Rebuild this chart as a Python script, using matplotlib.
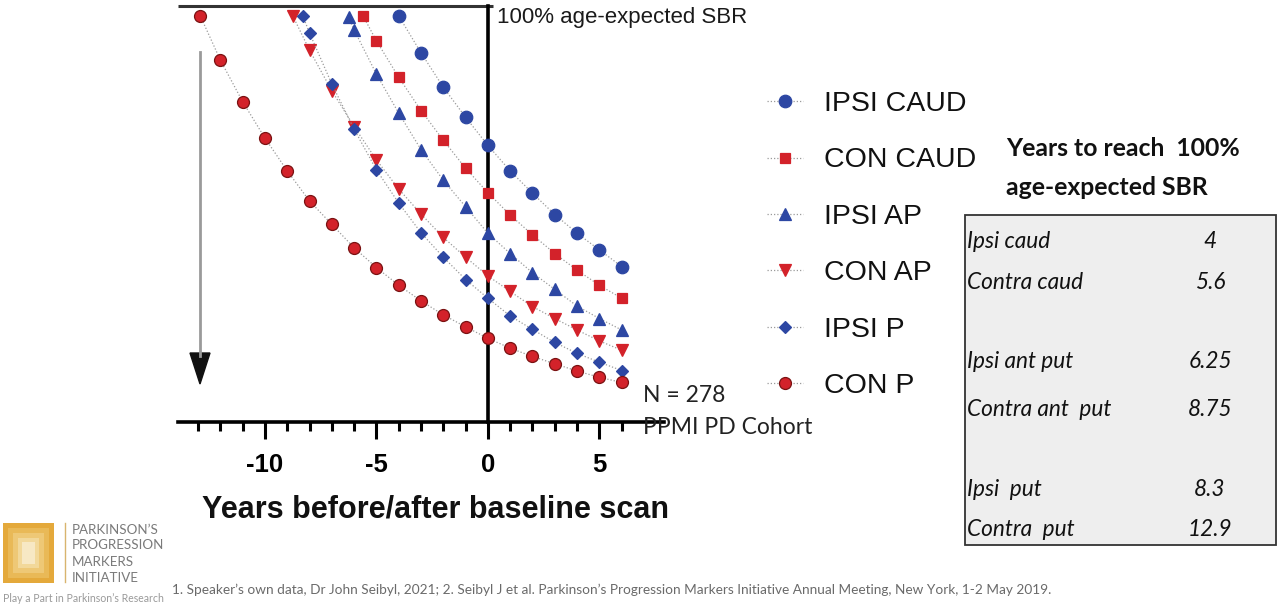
import matplotlib
matplotlib.use("Agg")
import matplotlib.pyplot as plt
from matplotlib.lines import Line2D
from matplotlib.patches import Rectangle, Polygon
from matplotlib.ticker import FixedLocator, NullFormatter
import logging
logging.getLogger("matplotlib.font_manager").setLevel(logging.ERROR)

# ---------------- data (% of age-expected SBR) ----
ipsi_caud_years = [-4, -3, -2, -1, 0, 1, 2, 3, 4, 5, 6]
ipsi_caud_vals = [98.1, 91.0, 84.4, 78.6, 73.2, 68.3, 64.0, 59.9, 56.3, 53.1, 49.9]

con_caud_years = [-5.6, -5, -4, -3, -2, -1, 0, 1, 2, 3, 4, 5, 6]
con_caud_vals = [98.1, 93.3, 86.3, 79.9, 74.2, 68.8, 64.1, 59.8, 56.0, 52.4, 49.2, 46.3, 43.8]

ipsi_ap_years = [-6.25, -6, -5, -4, -3, -2, -1, 0, 1, 2, 3, 4, 5, 6]
ipsi_ap_vals = [97.8, 95.4, 86.9, 79.4, 72.4, 66.5, 61.4, 56.3, 52.4, 48.7, 45.5, 42.3, 39.9, 37.7]

con_ap_years = [-8.75, -8, -7, -6, -5, -4, -3, -2, -1, 0, 1, 2, 3, 4, 5, 6]
con_ap_vals = [98.1, 91.5, 83.7, 76.8, 70.4, 64.8, 60.0, 55.5, 51.7, 48.1, 45.1, 42.2, 39.9, 37.7, 35.6, 33.8]

ipsi_p_years = [-8.3, -8, -7, -6, -5, -4, -3, -2, -1, 0, 1, 2, 3, 4, 5, 6]
ipsi_p_vals = [98.1, 94.8, 85.0, 76.3, 68.5, 62.1, 56.4, 51.7, 47.4, 43.8, 40.4, 37.8, 35.3, 33.2, 31.5, 29.9]

con_p_years = [-12.9, -12, -11, -10, -9, -8, -7, -6, -5, -4, -3, -2, -1, 0, 1, 2, 3, 4, 5, 6]
con_p_vals = [98.1, 89.6, 81.6, 74.6, 68.3, 62.5, 58.0, 53.5, 49.7, 46.3, 43.3, 40.6, 38.3, 36.1,
              34.2, 32.6, 31.2, 29.8, 28.6, 27.6]

series_labels = ["IPSI CAUD", "CON CAUD", "IPSI AP", "CON AP", "IPSI P", "CON P"]
REF_LEVEL = 100

major_ticks = [-10, -5, 0, 5]
major_tick_labels = ["-10", "-5", "0", "5"]
minor_ticks = [-13, -12, -11, -10, -9, -8, -7, -6, -5, -4, -3, -2, -1, 0, 1, 2, 3, 4, 5, 6]

table_labels = ["Ipsi caud", "Contra caud", "Ipsi ant put", "Contra ant  put", "Ipsi  put", "Contra  put"]
table_values = ["4", "5.6", "6.25", "8.75", "8.3", "12.9"]

# ---------------- figure ----------------
W, H = 1280, 608
fig = plt.figure(figsize=(W / 100, H / 100), dpi=100)
fig.patch.set_facecolor("white")


def fx(px):
    return px / W


def fy(py):
    return 1 - py / H


ARIAL = ["Liberation Sans", "DejaVu Sans"]
CALIBRI = ["Lato", "DejaVu Sans"]

ax = fig.add_axes([fx(178), fy(422), (664 - 178) / W, (422 - 6) / H])
ax.set_xlim(-13.9, 7.9)
ax.set_ylim(20, 100)

BLUE = "#2d47a3"
RED = "#d3222a"
LINEC = "#9b9b9b"
styles = [
    dict(marker="o", color=BLUE, ms=9.0, mec=BLUE),
    dict(marker="s", color=RED, ms=7.9, mec=RED),
    dict(marker="^", color=BLUE, ms=9.0, mec=BLUE),
    dict(marker="v", color=RED, ms=8.6, mec=RED),
    dict(marker="D", color=BLUE, ms=6.2, mec=BLUE),
    dict(marker="o", color=RED, ms=8.6, mec="#7a1212"),
]
data = [
    (ipsi_caud_years, ipsi_caud_vals),
    (con_caud_years, con_caud_vals),
    (ipsi_ap_years, ipsi_ap_vals),
    (con_ap_years, con_ap_vals),
    (ipsi_p_years, ipsi_p_vals),
    (con_p_years, con_p_vals),
]
handles = []
for (xs, ys), st, lab in zip(data, styles, series_labels):
    ln, = ax.plot(xs, ys, linestyle=(0, (1, 1.6)), lw=0.9, color=LINEC,
                  marker=st["marker"], markersize=st["ms"], markerfacecolor=st["color"],
                  markeredgecolor=st["mec"], markeredgewidth=0.9, label=lab,
                  clip_on=False, zorder=3)
    handles.append(ln)

# axes styling
for s in ["top", "right"]:
    ax.spines[s].set_visible(False)
ax.spines["left"].set_position(("data", 0))
ax.spines["left"].set_linewidth(2.6)
ax.spines["bottom"].set_linewidth(2.6)
ax.spines["left"].set_zorder(2)
ax.set_yticks([])
ax.xaxis.set_major_locator(FixedLocator(major_ticks))
ax.set_xticklabels(major_tick_labels)
ax.xaxis.set_minor_locator(FixedLocator(minor_ticks))
ax.xaxis.set_minor_formatter(NullFormatter())
ax.tick_params(axis="x", which="major", length=12.5, width=2.2, direction="out", pad=10)
ax.tick_params(axis="x", which="minor", length=6.5, width=2.2, direction="out")
for t in ax.get_xticklabels():
    t.set_fontfamily(ARIAL)
    t.set_fontweight("bold")
    t.set_fontsize(18.5)

# reference line (100 % age-expected)
ax.hlines(REF_LEVEL, ax.get_xlim()[0], 0.25, color="#333333", lw=2.2, clip_on=False, zorder=2)
ax.annotate("100% age-expected SBR", xy=(0, REF_LEVEL), xytext=(6.5, -12.5),
            textcoords="offset points", ha="left", va="baseline",
            fontsize=16, fontfamily=ARIAL, color="#1a1a1a", annotation_clip=False)

# x label
fig.text(fx(436), fy(510), "Years before/after baseline scan", ha="center", va="center",
         fontsize=22, fontweight="bold", fontfamily=ARIAL, color="#111111")

# downward arrow
fig.add_artist(Line2D([fx(200), fx(200)], [fy(52), fy(356)], color="#9a9a9a", lw=2,
                      transform=fig.transFigure))
fig.add_artist(Polygon([(fx(190), fy(353)), (fx(210), fy(353)), (fx(200), fy(384))],
                       closed=True, facecolor="#111111", edgecolor="#111111",
                       transform=fig.transFigure))

# legend
leg = fig.legend(handles, series_labels, loc="upper left", bbox_to_anchor=(fx(767), fy(91)),
                 frameon=False, borderpad=0, borderaxespad=0, handlelength=1.26,
                 handletextpad=0.75, labelspacing=1.07, numpoints=1,
                 prop=dict(family=ARIAL, size=20.5))
for t in leg.get_texts():
    t.set_color("#111111")

# N text
fig.text(fx(643), fy(395), "N = 278", fontsize=16.5, fontfamily=CALIBRI, va="center", color="#222222")
fig.text(fx(643), fy(428), "PPMI PD Cohort", fontsize=16.5, fontfamily=CALIBRI, va="center",
         color="#222222")

# table
fig.text(fx(1006), fy(149), "Years to reach  100%", fontsize=17.8, fontweight="bold",
         fontfamily=CALIBRI, va="center", ha="left", color="#111111")
fig.text(fx(1006), fy(187), "age-expected SBR", fontsize=17.8, fontweight="bold",
         fontfamily=CALIBRI, va="center", ha="left", color="#111111")
fig.add_artist(Rectangle((fx(965), fy(545)), (1276 - 965) / W, (545 - 215) / H,
                         transform=fig.transFigure, facecolor="#eeeeee", edgecolor="#333333",
                         lw=1.3, zorder=0))
row_y = [242, 282, 362, 410, 490, 530]
for lab, val, yy in zip(table_labels, table_values, row_y):
    fig.text(fx(967), fy(yy), lab, fontsize=16.3, fontstyle="italic", fontfamily=CALIBRI,
             va="center", ha="left", color="#111111")
    fig.text(fx(1210), fy(yy), val, fontsize=16.3, fontstyle="italic", fontfamily=CALIBRI,
             va="center", ha="center", color="#111111")

# logo
logo_cols = ["#e4a93b", "#e9b957", "#eec876", "#f2d89a", "#f7e8c4"]
insets = [0, 5, 10, 15, 19]
x0, y0, x1, y1 = 3, 523, 54, 583
for c, d in zip(logo_cols, insets):
    fig.add_artist(Rectangle((fx(x0 + d), fy(y1 - d)), (x1 - x0 - 2 * d) / W,
                             (y1 - y0 - 2 * d) / H, transform=fig.transFigure,
                             facecolor=c, edgecolor="none"))
fig.add_artist(Line2D([fx(65), fx(65)], [fy(523), fy(582)], color="#d8b46e", lw=1,
                      transform=fig.transFigure))
for txt, yy in zip(["PARKINSON\u2019S", "PROGRESSION", "MARKERS", "INITIATIVE"],
                   [530, 545, 562, 578]):
    fig.text(fx(72), fy(yy), txt, fontsize=9.6, fontfamily=CALIBRI, color="#7a7a7a",
             va="center", ha="left")
fig.text(fx(3), fy(599), "Play a Part in Parkinson\u2019s Research", fontsize=7.6,
         fontfamily=CALIBRI, color="#9a9a9a", va="center", ha="left")

# footer
fig.text(fx(172), fy(590),
         "1. Speaker\u2019s own data, Dr John Seibyl, 2021; 2. Seibyl J et al. Parkinson\u2019s "
         "Progression Markers Initiative Annual Meeting, New York, 1-2 May 2019.",
         fontsize=9.8, fontfamily=CALIBRI, color="#6a6a6a", va="center", ha="left")

fig.savefig("out.png", dpi=100)
